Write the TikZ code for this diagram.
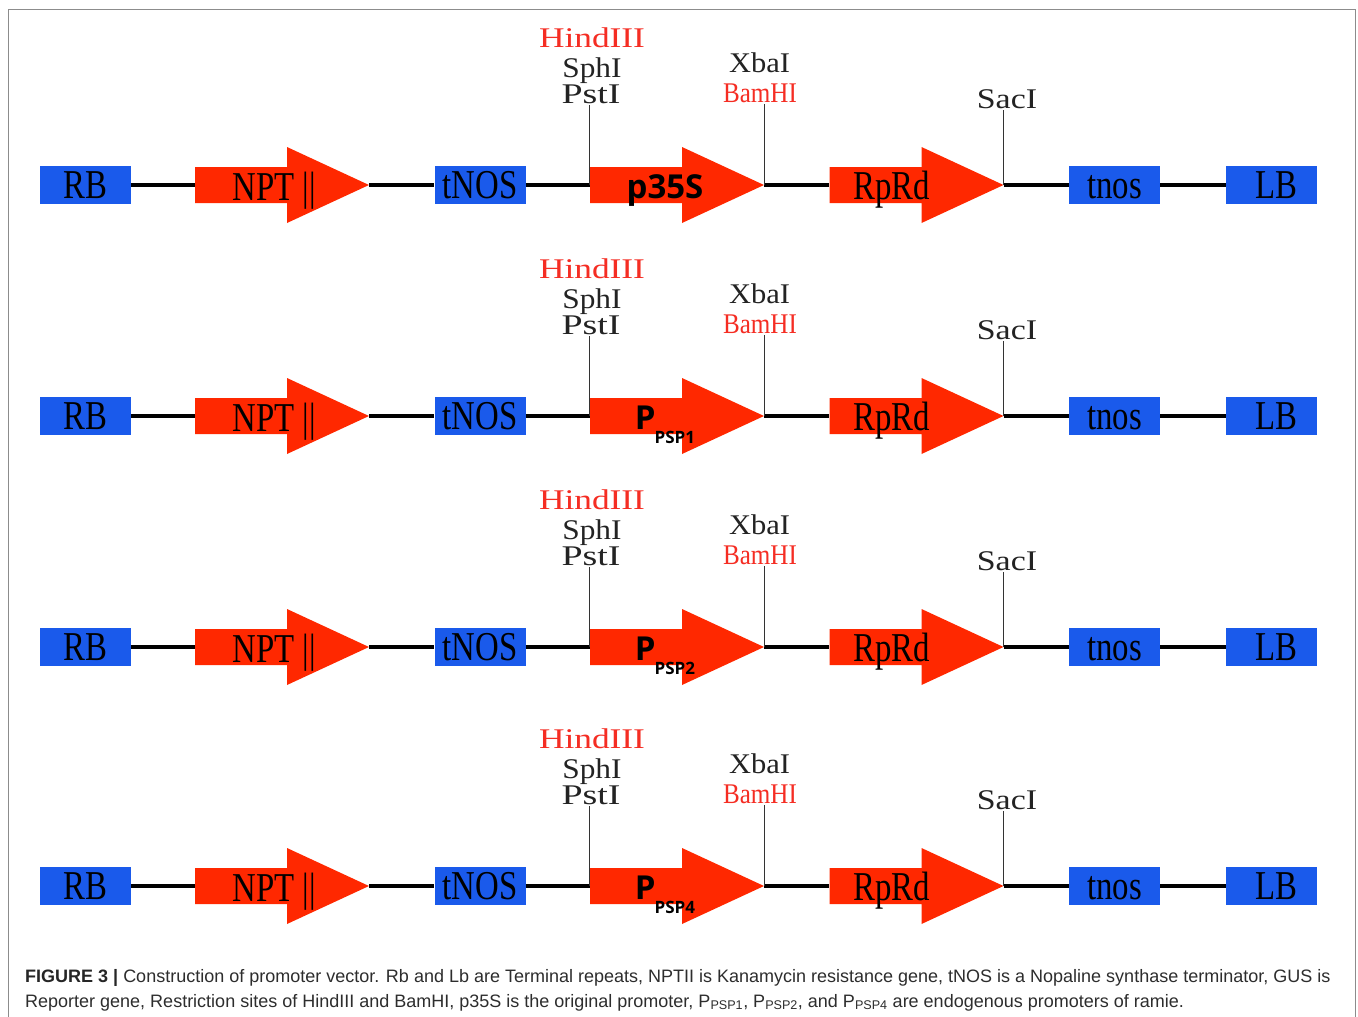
\documentclass[tikz,border=0pt]{standalone}
\usepackage{graphicx}
\usepackage{fontspec}
\setmainfont{Liberation Serif}
\newfontfamily\sitefont{Liberation Serif}
\newfontfamily\boxfont[FakeStretch=0.8]{Liberation Serif}
\newfontfamily\promfont{Open Sans}
\newfontfamily\capfont[FakeStretch=1.0]{Liberation Sans}
\definecolor{geneRed}{RGB}{255,40,0}
\definecolor{geneBlue}{RGB}{26,90,235}
\definecolor{siteRed}{RGB}{245,45,35}
\definecolor{frameGray}{RGB}{140,140,140}
\definecolor{capGray}{RGB}{45,45,45}
\definecolor{siteBlack}{RGB}{35,35,35}
\newcommand\promP[1]{P\hspace{-1pt}\raisebox{-14pt}{\fontsize{17}{17}\selectfont #1}}
\tikzset{
  genebox/.style={fill=geneBlue, minimum width=91pt, minimum height=38pt, inner sep=0pt,
    text height=26pt, text depth=0pt, font=\boxfont\fontsize{41}{41}\selectfont},
  genearrow/.style={minimum width=174pt, minimum height=76pt, inner sep=0pt,
    path picture={\fill[geneRed] ([yshift=18pt]path picture bounding box.west) -- ++(92pt,0pt)
      -- ([xshift=92pt]path picture bounding box.north west) -- (path picture bounding box.east)
      -- ([xshift=92pt]path picture bounding box.south west) -- ++(0pt,20pt)
      -- ([yshift=-18pt]path picture bounding box.west) -- cycle;}},
  arrowtext/.style={anchor=base, inner sep=0pt, font=\boxfont\fontsize{41}{41}\selectfont},
  promtext/.style={anchor=base, inner sep=0pt, font=\promfont\bfseries\fontsize{33}{33}\selectfont},
  sitelbl/.style={anchor=base, inner sep=2pt, text=siteBlack, font=\sitefont\fontsize{28.5}{28.5}\selectfont},
  backbone/.style={line width=4.5pt},
  siteline/.style={line width=1.3pt, black!80},
}
\begin{document}
\begin{tikzpicture}[x=1pt, y=-1pt]
\useasboundingbox (0,0) rectangle (1358,1017);
\fill[white] (0,0) rectangle (1358,1017);
\draw[frameGray, line width=1pt] (8,1020) -- (8,9) -- (1355,9) -- (1355,1020);

\foreach \r/\yc/\pl in {1/185/{p35S}, 2/416/{\promP{PSP1}}, 3/647/{\promP{PSP2}}, 4/886/{\promP{PSP4}}}{
  \pgfmathsetmacro\dy{\yc-185}
  % elements
  \node[genebox] (rb\r) at (85.5,\yc) {RB};
  \node[genearrow] (npt\r) at (282,\yc) {};
  \node[genebox] (tn\r) at (480,\yc) {tNOS};
  \node[genearrow] (pr\r) at (677,\yc) {};
  \node[genearrow] (rp\r) at (916.5,\yc) {};
  \node[genebox] (tt\r) at (1114.5,\yc) {tnos};
  \node[genebox] (lb\r) at (1271.5,\yc) {\hspace*{10pt}LB};
  % texts on arrows
  \node[arrowtext] (npt\r t) at ([xshift=-7.5pt,yshift=-15pt]npt\r.center) {NPT~||};
  \node[arrowtext] (rp\r t) at ([xshift=-25pt,yshift=-14pt]rp\r.center) {RpRd};
  \node[promtext] (pr\r t) at ([xshift=-12pt,yshift=-13pt]pr\r.center) {\pl};
  % backbone
  \draw[backbone] (rb\r.east) -- (npt\r.west);
  \draw[backbone] (npt\r.east) -- (tn\r.west);
  \draw[backbone] (tn\r.east) -- (pr\r.west);
  \draw[backbone] (pr\r.east) -- (rp\r.west);
  \draw[backbone] (rp\r.east) -- (tt\r.west);
  \draw[backbone] (tt\r.east) -- (lb\r.west);
  % restriction sites
  \node[sitelbl, text=siteRed] (hind\r) at (592,{47+\dy}) {\scalebox{1.24}[1]{HindIII}};
  \node[sitelbl] (sph\r) at (592,{77+\dy}) {\scalebox{1.1}[1]{SphI}};
  \node[sitelbl] (pst\r) at (591,{103+\dy}) {\scalebox{1.33}[1]{PstI}};
  \node[sitelbl] (xba\r) at (759.5,{72+\dy}) {\scalebox{1.07}[1]{XbaI}};
  \node[sitelbl, text=siteRed] (bam\r) at (760,{102+\dy}) {\scalebox{0.88}[1]{BamHI}};
  \node[sitelbl] (sac\r) at (1007,{108+\dy}) {\scalebox{1.19}[1]{SacI}};
  \draw[siteline] (pr\r.west) -- (pr\r.west |- pst\r.south);
  \draw[siteline] (pr\r.east) -- (pr\r.east |- bam\r.south);
  \draw[siteline] (rp\r.east) -- (rp\r.east |- sac\r.south);
}

\node[anchor=base west, inner sep=0pt, text=capGray, font=\capfont\fontsize{18}{18}\selectfont] (cap1) at (25,982)
  {{\bfseries\color{black!85}FIGURE 3 |} Construction of promoter vector. Rb and Lb are Terminal repeats, NPTII is Kanamycin resistance gene, tNOS is a Nopaline synthase terminator, GUS is};
\node[anchor=base west, inner sep=0pt, text=capGray, font=\capfont\fontsize{18}{18}\selectfont] (cap2) at (25,1007)
  {Reporter gene, Restriction sites of HindIII and BamHI, p35S is the original promoter, P\textsubscript{PSP1}, P\textsubscript{PSP2}, and P\textsubscript{PSP4} are endogenous promoters of ramie.};
\end{tikzpicture}
\end{document}
